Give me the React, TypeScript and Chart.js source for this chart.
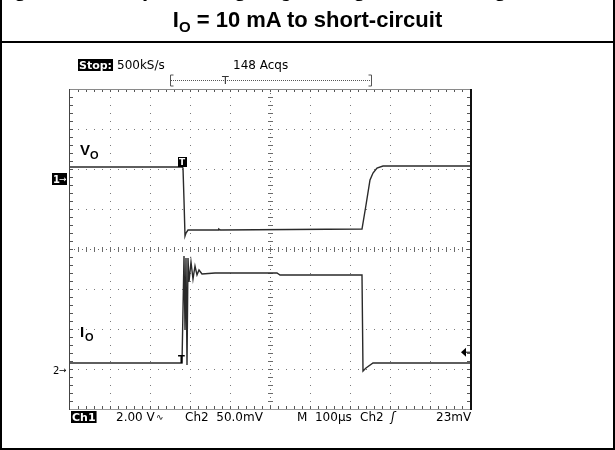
import React, { useEffect, useRef } from "react";
import { Chart, registerables } from "chart.js";
Chart.register(...registerables);

// Time axis in µs (100 µs/div, 10 divisions), vertical values in screen divisions (-4..4)
const voTime = [0, 280, 282.5, 285, 287.5, 290, 295, 370, 372, 376, 730, 740, 750, 757.5, 767.5, 782.5, 1000];
const voDiv = [2.05, 2.05, 2.025, 1.225, 0.325, 0.4, 0.475, 0.475, 0.5, 0.475, 0.5, 1.1, 1.725, 1.9, 2.025, 2.075, 2.075];

const ioTime = [0, 280, 285, 287.5, 290, 292.5, 295, 297.5, 302.5, 307.5, 312.5, 317.5, 322.5, 330, 362.5, 517.5, 525, 730, 732.5, 740, 757.5, 1000];
const ioDiv = [-2.85, -2.85, -0.175, -2.025, -0.225, -2.9, -0.225, -0.825, -0.325, -0.75, -0.425, -0.65, -0.525, -0.625, -0.6, -0.6, -0.65, -0.65, -3.05, -2.975, -2.85, -2.85];

const titleLine1 = "Figure 24. Output voltage V";
const titleLine1b = "O";
const titleLine1c = " during a load change from a high load going to prolonged short";
const titleLine2a = "I";
const titleLine2b = "O";
const titleLine2c = " = 10 mA to short-circuit";

const statusStop = "Stop:";
const statusRate = "500kS/s";
const statusAcqs = "148 Acqs";
const bottomCh1 = "Ch1";
const bottomCh1Scale = "2.00 V";
const bottomCh2 = "Ch2  50.0mV";
const bottomTime = "M  100µs";
const bottomTrig = "Ch2";
const bottomLevel = "23mV";

const FONT = '"DejaVu Sans", sans-serif';

const scopePlugin = {
  id: "scope",
  beforeDatasetsDraw(chart: any) {
    const ctx = chart.ctx;
    const xs = chart.scales.x;
    const ys = chart.scales.y;
    const L = Math.round(xs.getPixelForValue(0));
    const R = Math.round(xs.getPixelForValue(1000));
    const T = Math.round(ys.getPixelForValue(4));
    const B = Math.round(ys.getPixelForValue(-4));
    const cx = Math.round(xs.getPixelForValue(500));
    const cy = Math.round(ys.getPixelForValue(0));
    ctx.save();
    ctx.fillStyle = "#7a7a7a";
    for (let i = 1; i < 10; i++) {
      if (i === 5) continue;
      const px = Math.round(xs.getPixelForValue(i * 100));
      for (let j = 1; j < 40; j++) {
        const py = Math.round(ys.getPixelForValue(-4 + j * 0.2));
        ctx.fillRect(px, py, 1, 1);
      }
    }
    for (let k = -3; k <= 3; k++) {
      if (k === 0) continue;
      const py = Math.round(ys.getPixelForValue(k));
      for (let j = 1; j < 50; j++) {
        const px = Math.round(xs.getPixelForValue(j * 20));
        ctx.fillRect(px, py, 1, 1);
      }
    }
    ctx.fillStyle = "#6a6a6a";
    for (let j = 1; j < 100; j++) {
      const px = Math.round(xs.getPixelForValue(j * 10));
      ctx.fillRect(px, cy, 1, 1);
      if (j % 2 === 0) ctx.fillRect(px, cy - 2, 1, 5);
    }
    for (let j = 1; j < 80; j++) {
      const py = Math.round(ys.getPixelForValue(-4 + j * 0.1));
      ctx.fillRect(cx, py, 1, 1);
      if (j % 2 === 0) ctx.fillRect(cx - 2, py, 5, 1);
    }
    ctx.fillStyle = "#555";
    for (let j = 1; j < 50; j++) {
      const px = Math.round(xs.getPixelForValue(j * 20));
      ctx.fillRect(px, T, 1, 3);
      ctx.fillRect(px, B - 3, 1, 3);
    }
    for (let j = 1; j < 40; j++) {
      const py = Math.round(ys.getPixelForValue(-4 + j * 0.2));
      ctx.fillRect(L, py, 3, 1);
      ctx.fillRect(R - 3, py, 3, 1);
    }
    ctx.fillStyle = "#8a8a8a";
    ctx.fillRect(L, T, R - L, 1);
    ctx.fillStyle = "#444";
    ctx.fillRect(L - 1, T, 1, B - T + 1);
    ctx.fillStyle = "#9a9a9a";
    ctx.fillRect(L, B, R - L, 1);
    ctx.fillStyle = "#111";
    ctx.fillRect(R, T, 2, B - T + 1);
    ctx.restore();
  },
  afterDraw(chart: any) {
    const ctx = chart.ctx;
    const xs = chart.scales.x;
    const ys = chart.scales.y;
    const L = xs.getPixelForValue(0);
    const R = xs.getPixelForValue(1000);
    const T = ys.getPixelForValue(4);
    const B = ys.getPixelForValue(-4);
    ctx.save();
    ctx.textBaseline = "alphabetic";
    const inv = (txt: string, x: number, base: number, font: string) => {
      ctx.font = font;
      const w = ctx.measureText(txt).width;
      ctx.fillStyle = "#000";
      ctx.fillRect(x - 1, base - 10, w + 2, 12);
      ctx.fillStyle = "#fff";
      ctx.fillText(txt, x, base);
    };
    inv(statusStop, L + 9, T - 20, `bold 11px ${FONT}`);
    ctx.fillStyle = "#000";
    ctx.font = `12px ${FONT}`;
    ctx.fillText(statusRate, L + 47, T - 20);
    ctx.fillText(statusAcqs, L + 163, T - 20);
    ctx.strokeStyle = "#555";
    ctx.lineWidth = 1;
    ctx.setLineDash([1, 1]);
    ctx.beginPath();
    ctx.moveTo(L + 101, T - 8.5);
    ctx.lineTo(L + 301, T - 8.5);
    ctx.stroke();
    ctx.setLineDash([]);
    ctx.beginPath();
    ctx.moveTo(L + 103.5, T - 14);
    ctx.lineTo(L + 100.5, T - 14);
    ctx.lineTo(L + 100.5, T - 3);
    ctx.lineTo(L + 103.5, T - 3);
    ctx.moveTo(L + 298.5, T - 14);
    ctx.lineTo(L + 301.5, T - 14);
    ctx.lineTo(L + 301.5, T - 3);
    ctx.lineTo(L + 298.5, T - 3);
    ctx.stroke();
    ctx.fillStyle = "#333";
    ctx.font = `11px ${FONT}`;
    ctx.fillText("T", L + 152, T - 5);

    const by = B + 12;
    inv(bottomCh1, L + 2, by, `bold 11px ${FONT}`);
    ctx.fillStyle = "#000";
    ctx.font = `12px ${FONT}`;
    ctx.fillText(bottomCh1Scale, L + 46, by);
    ctx.font = `9px ${FONT}`;
    ctx.fillText("∿", L + 86, by - 1);
    ctx.font = `12px ${FONT}`;
    ctx.fillText(bottomCh2, L + 115, by);
    ctx.fillText(bottomTime, L + 227, by);
    ctx.fillText(bottomTrig, L + 290, by);
    ctx.font = `italic 12px ${FONT}`;
    ctx.fillText("ʃ", L + 321, by);
    ctx.font = `12px ${FONT}`;
    ctx.fillText(bottomLevel, L + 366, by);

    ctx.font = `bold 15px "Liberation Sans", Arial, sans-serif`;
    ctx.fillText("V", L + 10, ys.getPixelForValue(2.35));
    ctx.fillText("I", L + 10, ys.getPixelForValue(-2.2));
    ctx.font = `bold 11px "Liberation Sans", Arial, sans-serif`;
    ctx.fillText("O", L + 20, ys.getPixelForValue(2.25));
    ctx.fillText("O", L + 15, ys.getPixelForValue(-2.3));

    const g1 = ys.getPixelForValue(1.75);
    ctx.fillStyle = "#000";
    ctx.fillRect(L - 18, g1 - 6, 15, 12);
    ctx.fillStyle = "#fff";
    ctx.font = `bold 10px ${FONT}`;
    ctx.fillText("1", L - 17, g1 + 4);
    ctx.font = `9px ${FONT}`;
    ctx.fillText("→", L - 11, g1 + 3);
    const g2 = ys.getPixelForValue(-3.03);
    ctx.fillStyle = "#000";
    ctx.font = `10px ${FONT}`;
    ctx.fillText("2", L - 17, g2 + 4);
    ctx.font = `9px ${FONT}`;
    ctx.fillText("→", L - 11, g2 + 3);

    const tx = xs.getPixelForValue(280);
    const t1 = ys.getPixelForValue(2.05);
    ctx.fillStyle = "#000";
    ctx.fillRect(tx - 4, t1 - 10, 9, 10);
    ctx.fillStyle = "#fff";
    ctx.font = `bold 9px ${FONT}`;
    ctx.fillText("T", tx - 3, t1 - 2);
    ctx.fillStyle = "#000";
    ctx.font = `bold 10px ${FONT}`;
    ctx.fillText("T", tx - 4, ys.getPixelForValue(-2.85));
    const ay = ys.getPixelForValue(-2.58);
    ctx.beginPath();
    ctx.moveTo(R - 9, ay);
    ctx.lineTo(R - 4, ay - 4.5);
    ctx.lineTo(R - 4, ay + 4.5);
    ctx.closePath();
    ctx.fill();
    ctx.fillRect(R - 4, ay - 0.5, 4, 1);
    ctx.restore();
  },
};

export default function App() {
  const ref = useRef<HTMLCanvasElement>(null);
  useEffect(() => {
    if (!ref.current) return;
    const toPts = (xs: number[], ys: number[]) => xs.map((x, i) => ({ x, y: ys[i] }));
    const chart = new Chart(ref.current, {
      type: "scatter",
      data: {
        datasets: [
          {
            label: "VO",
            data: toPts(voTime, voDiv),
            showLine: true,
            borderColor: "#2a2a2a",
            borderWidth: 1.4,
            pointRadius: 0,
            tension: 0,
          },
          {
            label: "IO",
            data: toPts(ioTime, ioDiv),
            showLine: true,
            borderColor: "#2a2a2a",
            borderWidth: 1.4,
            pointRadius: 0,
            tension: 0,
          },
        ],
      },
      options: {
        animation: false,
        responsive: false,
        devicePixelRatio: 1,
        layout: { padding: { left: 70, right: 145, top: 89, bottom: 41 } },
        plugins: { legend: { display: false }, tooltip: { enabled: false } },
        scales: {
          x: { type: "linear", min: 0, max: 1000, display: false },
          y: { type: "linear", min: -4, max: 4, display: false },
        },
      },
      plugins: [scopePlugin],
    });
    return () => chart.destroy();
  }, []);

  const titleFont = '"Liberation Sans", Arial, sans-serif';
  return (
    <div style={{ position: "absolute", left: 0, top: 0, width: 615, height: 450, background: "#fff", overflow: "hidden" }}>
      <canvas ref={ref} width={615} height={450} style={{ position: "absolute", left: 0, top: 0, width: 615, height: 450 }} />
      <div
        style={{
          position: "absolute",
          left: -6,
          top: -22,
          whiteSpace: "nowrap",
          fontFamily: titleFont,
          fontWeight: "bold",
          fontSize: 22,
          lineHeight: "22px",
        }}
      >
        {titleLine1}
        <sub style={{ fontSize: 15, lineHeight: 0 }}>{titleLine1b}</sub>
        {titleLine1c}
      </div>
      <div
        style={{
          position: "absolute",
          left: 0,
          width: 615,
          top: 9,
          textAlign: "center",
          whiteSpace: "nowrap",
          fontFamily: titleFont,
          fontWeight: "bold",
          fontSize: 22,
          lineHeight: "22px",
        }}
      >
        {titleLine2a}
        <sub style={{ fontSize: 15, lineHeight: 0 }}>{titleLine2b}</sub>
        {titleLine2c}
      </div>
      <div style={{ position: "absolute", left: 0, top: 0, width: 2, height: 450, background: "#000" }} />
      <div style={{ position: "absolute", right: 0, top: 0, width: 2, height: 450, background: "#000" }} />
      <div style={{ position: "absolute", left: 0, top: 41, width: 615, height: 2, background: "#000" }} />
      <div style={{ position: "absolute", left: 0, top: 448, width: 615, height: 2, background: "#000" }} />
    </div>
  );
}
